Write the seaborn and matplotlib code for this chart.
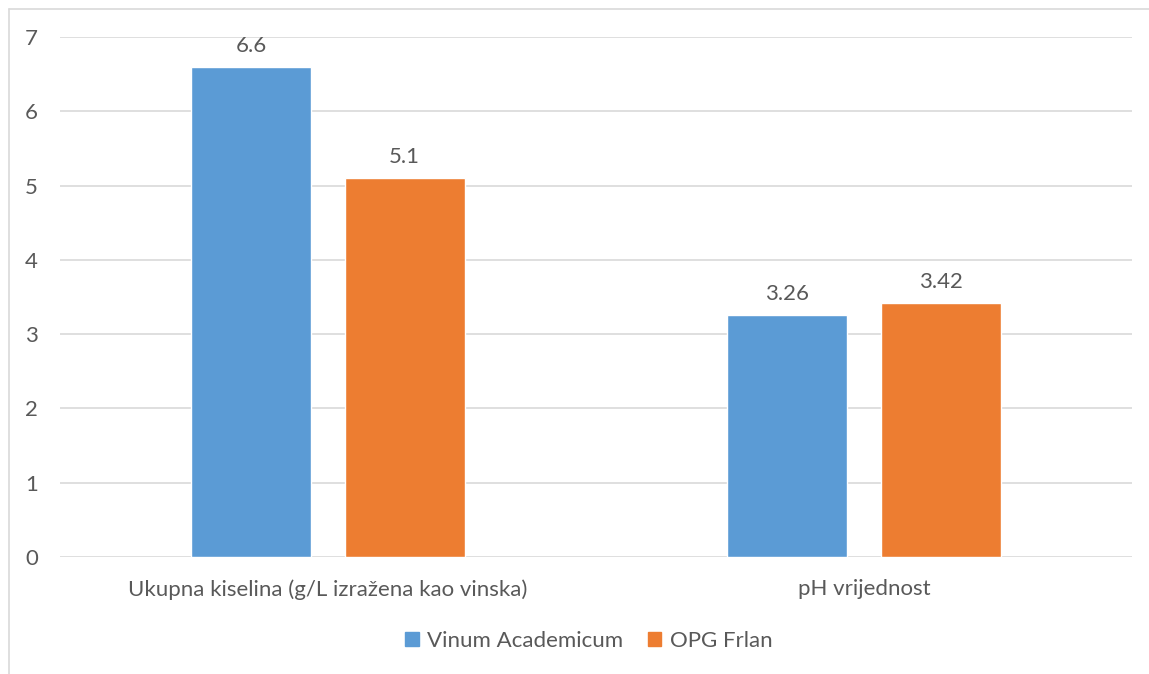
import pandas as pd
import matplotlib
matplotlib.use('Agg')
import matplotlib.pyplot as plt
from matplotlib.lines import Line2D
import seaborn as sns

# Podaci
kategorije = ['Ukupna kiselina (g/L izražena kao vinska)', 'pH vrijednost']
vinum_academicum = [6.6, 3.26]
opg_frlan = [5.1, 3.42]
serije = ['Vinum Academicum', 'OPG Frlan']
boje = ['#5B9BD5', '#ED7D31']
y_ticks = [0, 1, 2, 3, 4, 5, 6, 7]

df = pd.DataFrame({
    'kategorija': kategorije * 2,
    'vrijednost': vinum_academicum + opg_frlan,
    'serija': [serije[0]] * 2 + [serije[1]] * 2,
})

sns.set_style('white')
plt.rcParams['font.family'] = ['Lato', 'DejaVu Sans']
tekst = '#595959'
fs = 16

fig = plt.figure(figsize=(11.49, 6.74), dpi=100)
ax = fig.add_axes([60 / 1149, 117 / 674, 1072 / 1149, 520 / 674])

sns.barplot(data=df, x='kategorija', y='vrijednost', hue='serija',
            palette=boje, width=0.571, gap=0.216, saturation=1,
            ax=ax, legend=False)

ax.set_ylim(0, 7)
ax.set_xlim(-0.5, 1.5)
ax.set_yticks(y_ticks)
ax.yaxis.grid(True, color='#D9D9D9', linewidth=1.2)
ax.set_axisbelow(True)
for s in ax.spines.values():
    s.set_visible(False)
ax.tick_params(axis='both', length=0, labelsize=fs, colors=tekst)
ax.tick_params(axis='y', pad=16)
ax.tick_params(axis='x', pad=16)
ax.set_xlabel('')
ax.set_ylabel('')

for c in ax.containers:
    ax.bar_label(c, padding=8, fontsize=fs, color=tekst)

# legenda
handles = [plt.Rectangle((0, 0), 1, 1, color=b) for b in boje]
fig.legend(handles, serije, loc='center', bbox_to_anchor=(589 / 1149, 1 - 641 / 674),
           ncol=2, frameon=False, fontsize=fs, labelcolor=tekst,
           handlelength=0.6, handleheight=0.6, handletextpad=0.4, columnspacing=1.1)

# okvir grafikona
fig.add_artist(Line2D([8.5 / 1149, 8.5 / 1149], [0, 1 - 8.5 / 674], color='#D9D9D9', linewidth=1.2))
fig.add_artist(Line2D([8.5 / 1149, 1], [1 - 8.5 / 674, 1 - 8.5 / 674], color='#D9D9D9', linewidth=1.2))

fig.savefig('out.png', dpi=100)
